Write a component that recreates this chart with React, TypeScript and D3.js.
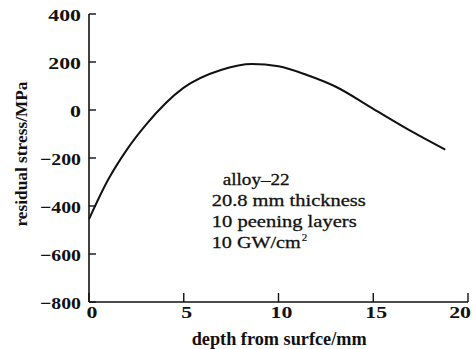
import React from "react";
import * as d3 from "d3";

const depth = [0, 1, 2, 3, 5, 7, 8.6, 10, 11.5, 13, 15, 17, 18.8];
const stress = [-455, -292, -165, -62, 93, 168, 192, 182, 146, 98, 5, -88, -165];
const xTicks = [0, 5, 10, 15, 20];
const yTicks = [400, 200, 0, -200, -400, -600, -800];
const notes = ["alloy\u201322", "20.8 mm thickness", "10 peening layers", "10 GW/cm"];

const W = 472;
const H = 349;
const serif = "'Liberation Serif', 'Times New Roman', serif";

function fmt(v: number) {
  return v < 0 ? "\u2212" + Math.abs(v) : String(v);
}
function labelLen(s: string) {
  let w = 0;
  for (const c of s) w += c === "\u2212" ? 8.3 : 10.9;
  return w;
}

export default function App() {
  const x = d3.scaleLinear().domain([0, 20]).range([89, 468]);
  const y = d3.scaleLinear().domain([-800, 400]).range([302, 14]);
  const line = d3
    .line<number>()
    .x((_, i) => x(depth[i]))
    .y((d) => y(d))
    .curve(d3.curveMonotoneX);
  const path = line(stress) || "";
  const noteLens = [67, 154, 145, 89];
  const noteX = [222.7, 211.7, 211.7, 211.7];
  return (
    <svg
      width={W}
      height={H}
      style={{ position: "absolute", left: 0, top: 0, background: "#fff" }}
      fontFamily={serif}
    >
      <line x1={x(0)} x2={x(0)} y1={y(400)} y2={y(-800)} stroke="#111" strokeWidth={1.6} />
      <line x1={x(0)} x2={x(20)} y1={y(-800)} y2={y(-800)} stroke="#111" strokeWidth={1.6} />
      {yTicks.map((t) => (
        <g key={"y" + t}>
          <line x1={x(0)} x2={x(0) + 7} y1={y(t)} y2={y(t)} stroke="#111" strokeWidth={1.4} />
          <text
            x={81}
            y={y(t) + 6.5}
            textAnchor="end"
            fontSize={17}
            fontWeight="bold"
            fill="#111"
            textLength={labelLen(fmt(t))}
            lengthAdjust="spacingAndGlyphs"
          >
            {fmt(t)}
          </text>
        </g>
      ))}
      {xTicks.map((t) => {
        const len = labelLen(fmt(t));
        const left = Math.min(x(t) + 3 - len / 2, W - 1 - len);
        return (
          <g key={"x" + t}>
            <line x1={x(t)} x2={x(t)} y1={y(-800)} y2={y(-800) - 9} stroke="#111" strokeWidth={1.4} />
            <text
              x={left}
              y={318}
              fontSize={17}
              fontWeight="bold"
              fill="#111"
              textLength={len}
              lengthAdjust="spacingAndGlyphs"
            >
              {fmt(t)}
            </text>
          </g>
        );
      })}
      <text
        x={191.7}
        y={345}
        fontSize={18}
        fontWeight="bold"
        fill="#111"
        textLength={175}
        lengthAdjust="spacingAndGlyphs"
      >
        depth from surfce/mm
      </text>
      <text
        transform="translate(26.5,154) rotate(-90)"
        textAnchor="middle"
        fontSize={17}
        fontWeight="bold"
        fill="#111"
        textLength={145}
        lengthAdjust="spacingAndGlyphs"
      >
        residual stress/MPa
      </text>
      <path d={path} fill="none" stroke="#111" strokeWidth={2} />
      {notes.map((n, i) => (
        <text
          key={n}
          x={noteX[i]}
          y={185 + i * 21.1}
          fontSize={17}
          fill="#111"
          stroke="#111"
          strokeWidth={0.3}
          textLength={noteLens[i]}
          lengthAdjust="spacingAndGlyphs"
        >
          {n}
        </text>
      ))}
      <text x={211.7 + 89 + 1} y={185 + 3 * 21.1 - 7} fontSize={11} fill="#111" stroke="#111" strokeWidth={0.2}>
        2
      </text>
    </svg>
  );
}
